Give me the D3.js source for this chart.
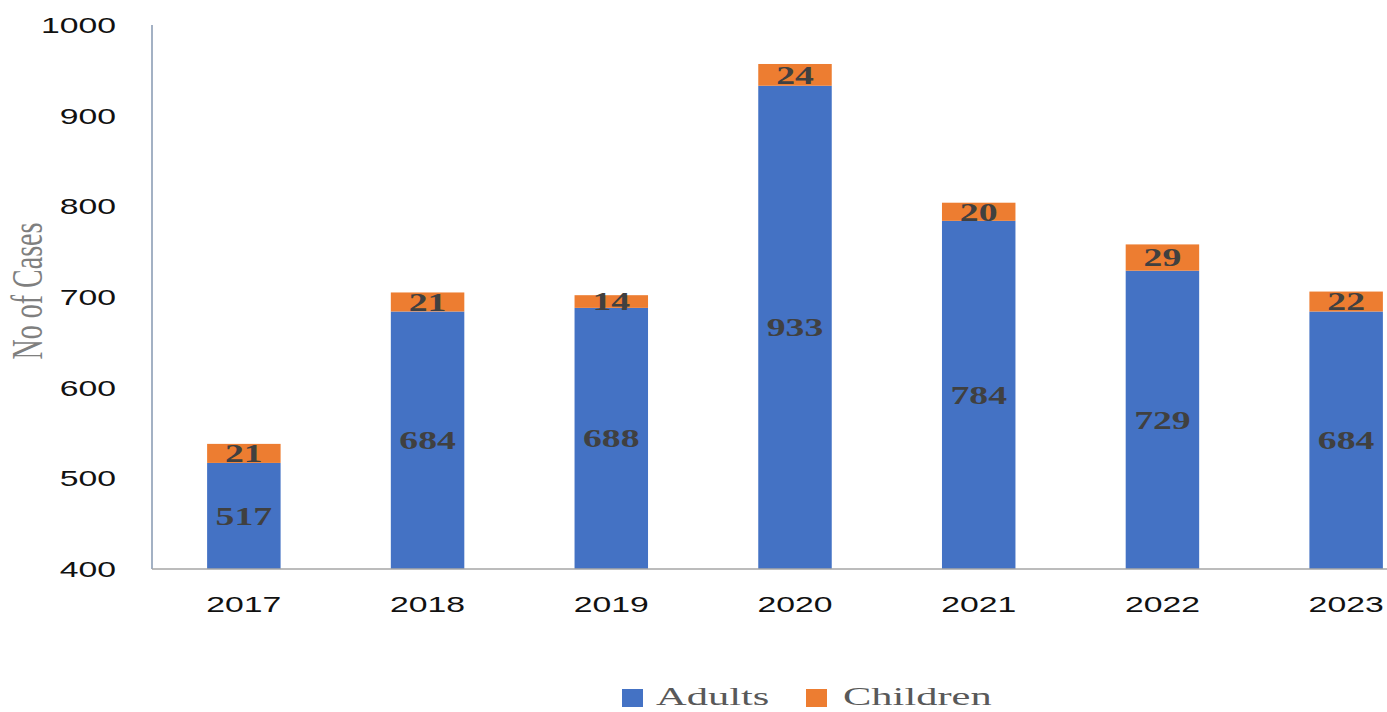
<!DOCTYPE html>
<html>
<head>
<meta charset="utf-8">
<script src="https://cdn.jsdelivr.net/npm/d3@7"></script>
<style>
  html, body { margin: 0; padding: 0; background: #fff; }
  svg { display: block; }
</style>
</head>
<body>
<svg id="chart" width="1387" height="712"></svg>
<script>
// Yearly case counts, split into adults and children
const years = ["2017", "2018", "2019", "2020", "2021", "2022", "2023"];
const adults = [517, 684, 688, 933, 784, 729, 684];
const children = [21, 21, 14, 24, 20, 29, 22];
const yTicks = [400, 500, 600, 700, 800, 900, 1000];
const seriesNames = ["Adults", "Children"];
const seriesColors = ["#4472c4", "#ed7d31"];

const W = 1387, H = 712;
const plot = { left: 152, top: 25, bottom: 569 };
// the category band continues past the right edge of the canvas
const bandRight = 1438;

const svg = d3.select("#chart");

const x = d3.scaleBand().domain(years).range([plot.left, bandRight]).paddingInner(0.6).paddingOuter(0.3);
const y = d3.scaleLinear().domain([400, 1000]).range([plot.bottom, plot.top]);

const rows = years.map((yr, i) => ({ year: yr, Adults: adults[i], Children: children[i] }));
const stacked = d3.stack().keys(seriesNames)(rows);

// horizontally widened text helper
function wideText(g, tx, ty, sx, sy) {
  return g.attr("transform", `translate(${tx},${ty}) scale(${sx},${sy || 1})`);
}

// bars (the value axis starts at 400, so segments are clipped to it)
const barLayer = svg.append("g");
stacked.forEach((s, si) => {
  barLayer.selectAll(null).data(s).enter().append("rect")
    .attr("x", d => x(d.data.year))
    .attr("width", x.bandwidth())
    .attr("y", d => y(d[1]))
    .attr("height", d => y(Math.max(d[0], 400)) - y(d[1]))
    .attr("fill", seriesColors[si]);
});

// value labels inside segments
stacked.forEach((s) => {
  s.forEach(d => {
    const lo = Math.max(d[0], 400);
    const cy = (y(lo) + y(d[1])) / 2;
    const t = svg.append("text")
      .attr("text-anchor", "middle")
      .attr("dy", "0.34em")
      .attr("font-family", "'Liberation Serif', serif")
      .attr("font-weight", "bold")
      .attr("font-size", 26)
      .attr("fill", "#404040")
      .text(d.data[s.key]);
    wideText(t, x(d.data.year) + x.bandwidth() / 2, cy, 1.45);
  });
});

// value axis line
svg.append("line")
  .attr("x1", plot.left).attr("x2", plot.left)
  .attr("y1", plot.top).attr("y2", plot.bottom)
  .attr("stroke", "#8497b0").attr("stroke-width", 1.5);

// category baseline
svg.append("line")
  .attr("x1", plot.left).attr("x2", W)
  .attr("y1", plot.bottom).attr("y2", plot.bottom)
  .attr("stroke", "#a6a6a6").attr("stroke-width", 1.5);

// y tick labels
yTicks.forEach(v => {
  const t = svg.append("text")
    .attr("text-anchor", "end")
    .attr("dy", "0.36em")
    .attr("font-family", "'Liberation Sans', Arial, sans-serif")
    .attr("font-size", 22.5)
    .attr("fill", "#111")
    .text(v);
  wideText(t, 116, y(v), 1.5);
});

// x tick labels
years.forEach(yr => {
  const t = svg.append("text")
    .attr("text-anchor", "middle")
    .attr("font-family", "'Liberation Sans', Arial, sans-serif")
    .attr("font-size", 22.5)
    .attr("fill", "#111")
    .text(yr);
  wideText(t, x(yr) + x.bandwidth() / 2, 612, 1.5);
});

// y axis title
svg.append("text")
  .attr("text-anchor", "middle")
  .attr("font-family", "'Liberation Serif', serif")
  .attr("font-size", 28)
  .attr("fill", "#7f7f7f")
  .attr("transform", "translate(42,291) rotate(-90) scale(1,1.57)")
  .text("No of Cases");

// legend
const legendItems = [
  { name: seriesNames[0], color: seriesColors[0], sx: 622, tx: 656 },
  { name: seriesNames[1], color: seriesColors[1], sx: 806, tx: 843 }
];
legendItems.forEach(it => {
  svg.append("rect")
    .attr("x", it.sx).attr("y", 689)
    .attr("width", 21).attr("height", 18)
    .attr("fill", it.color);
  const t = svg.append("text")
    .attr("font-family", "'Liberation Serif', serif")
    .attr("font-size", 25)
    .attr("fill", "#595959")
    .text(it.name);
  wideText(t, it.tx, 705, 1.7);
});
</script>
</body>
</html>
